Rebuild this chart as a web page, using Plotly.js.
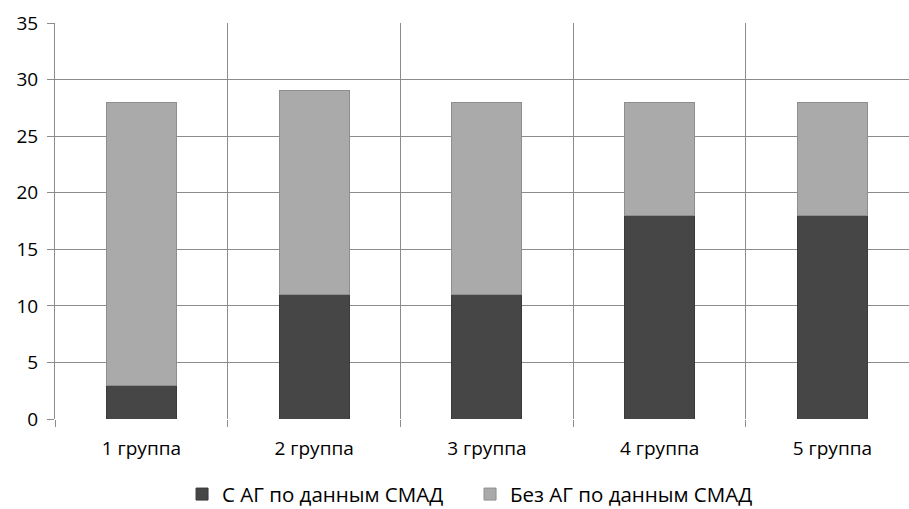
<!DOCTYPE html>
<html>
<head>
<meta charset="utf-8">
<script src="https://cdn.plot.ly/plotly-3.0.1.min.js"></script>
<style>
  html, body { margin: 0; padding: 0; background: #fff; overflow: hidden; }
  #chart { width: 909px; height: 509px; }
</style>
</head>
<body>
<div id="chart"></div>
<script>
// Groups along the x axis
const groups = ["1 группа", "2 группа", "3 группа", "4 группа", "5 группа"];
const groupPos = [0, 1, 2, 3, 4];

// Patients with / without hypertension by ABPM, per group
const withAG = [3, 11, 11, 18, 18];
const withoutAG = [25, 18, 17, 10, 10];

const seriesNames = ["С АГ по данным СМАД", "Без АГ по данным СМАД"];

const yTicks = [0, 5, 10, 15, 20, 25, 30, 35];
// category boundaries for the vertical grid
const boundaries = [-0.5, 0.5, 1.5, 2.5, 3.5, 4.5];

const font = "Open Sans, Noto Sans, sans-serif";
const fontSize = 19;
const gridColor = "#8c8c8c";

const traces = [
  {
    type: "bar",
    name: seriesNames[0],
    x: groupPos,
    y: withAG,
    width: 0.405,
    marker: { color: "#464646", line: { color: "#3a3a3a", width: 1 } },
    hoverinfo: "y"
  },
  {
    type: "bar",
    name: seriesNames[1],
    x: groupPos,
    y: withoutAG,
    width: 0.405,
    marker: { color: "#aaaaaa", line: { color: "#8e8e8e", width: 1 } },
    hoverinfo: "y"
  }
];

const layout = {
  width: 909,
  height: 509,
  margin: { l: 55, r: 0, t: 23, b: 90, autoexpand: false },
  barmode: "stack",
  paper_bgcolor: "#fff",
  plot_bgcolor: "#fff",
  font: { family: font, size: fontSize, color: "#000" },
  showlegend: true,
  legend: {
    orientation: "h",
    x: 0.486,
    xanchor: "center",
    y: -0.19,
    yanchor: "middle",
    font: { family: font, size: 20.5, color: "#000" },
    traceorder: "normal",
    entrywidth: 243
  },
  xaxis: {
    range: [-0.5, 4.4436],
    tickmode: "array",
    tickvals: groupPos,
    ticktext: groups,
    ticks: "",
    showgrid: false,
    zeroline: false,
    showline: false,
    ticklabelstandoff: 16,
    tickfont: { family: font, size: fontSize, color: "#000" },
    minor: {
      tickmode: "array",
      tickvals: boundaries,
      ticks: "outside",
      ticklen: 7,
      tickcolor: gridColor,
      tickwidth: 1,
      showgrid: true,
      gridcolor: gridColor,
      gridwidth: 1
    }
  },
  yaxis: {
    range: [0, 35],
    tickmode: "array",
    tickvals: yTicks,
    ticks: "outside",
    ticklen: 7,
    tickcolor: gridColor,
    showgrid: true,
    gridcolor: gridColor,
    gridwidth: 1,
    zeroline: false,
    showline: true,
    linecolor: gridColor,
    ticklabelstandoff: 5,
    tickfont: { family: font, size: fontSize, color: "#000" }
  }
};

Plotly.newPlot("chart", traces, layout, { displayModeBar: false, staticPlot: true });
</script>
</body>
</html>
